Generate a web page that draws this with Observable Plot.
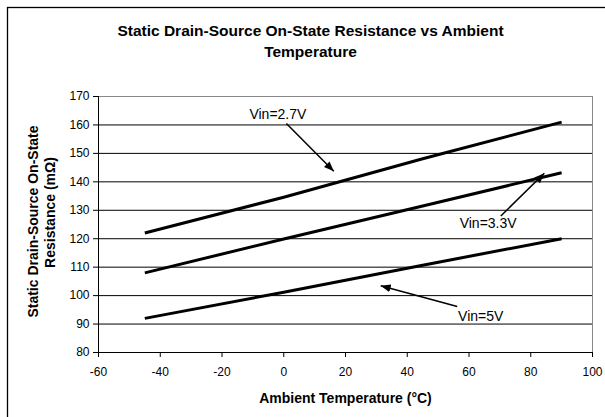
<!DOCTYPE html>
<html>
<head>
<meta charset="utf-8">
<script src="https://cdn.jsdelivr.net/npm/d3@7"></script>
<script src="https://cdn.jsdelivr.net/npm/@observablehq/plot@0.6"></script>
<style>
  html, body { margin: 0; padding: 0; background: #fff; }
</style>
</head>
<body>
<div id="chart"></div>
<script>
// ---- data ----
const temps = [-45, 0, 45, 90];
const vin27 = [122, 134.6, 148.1, 161];
const vin33 = [108, 119.9, 131.5, 143.2];
const vin5  = [92, 101.2, 110.7, 120];
const seriesNames = ["Vin=2.7V", "Vin=3.3V", "Vin=5V"];

const xTicks = [-60, -40, -20, 0, 20, 40, 60, 80, 100];
const yTicks = [80, 90, 100, 110, 120, 130, 140, 150, 160, 170];

// annotation label positions and arrows (in data units)
const labelT = [-1.9, 66.2, 63.8];
const labelR = [163.7, 125.2, 92.6];
const arrowFromT = [0.85, 70.3, 56.2];
const arrowFromR = [160.5, 128.0, 96.2];
const arrowToT = [16.2, 84.4, 31.4];
const arrowToR = [143.7, 143.0, 103.5];

const titleLines = ["Static Drain-Source On-State Resistance vs Ambient", "Temperature"];
const yTitleLines = ["Static Drain-Source On-State", "Resistance (mΩ)"];
const xTitle = "Ambient Temperature (°C)";

// ---- build tables ----
const rows = [];
[vin27, vin33, vin5].forEach((vals, si) => {
  vals.forEach((v, i) => rows.push({temp: temps[i], r: v, vin: seriesNames[si]}));
});
const labels = seriesNames.map((n, i) => ({name: n, t: labelT[i], r: labelR[i]}));
const arrows = seriesNames.map((n, i) => ({x1: arrowFromT[i], y1: arrowFromR[i], x2: arrowToT[i], y2: arrowToR[i]}));

const font = '"Liberation Sans", Arial, Helvetica, sans-serif';
const plain = d => String(d);

const chart = Plot.plot({
  width: 605,
  height: 417,
  marginLeft: 98,
  marginRight: 13,
  marginTop: 96,
  marginBottom: 65,
  x: {domain: [-60, 100]},
  y: {domain: [80, 170]},
  style: {fontFamily: font, fontSize: "12px", color: "#000", background: "#fff", overflow: "visible"},
  marks: [
    Plot.ruleY(yTicks.filter(v => v < 170), {stroke: "#000", strokeWidth: 1}),
    Plot.ruleY([170], {stroke: "#888", strokeWidth: 1}),
    Plot.ruleX([100], {stroke: "#888", strokeWidth: 1}),
    Plot.ruleX([-60], {stroke: "#000", strokeWidth: 1}),
    Plot.ruleY([80], {stroke: "#000", strokeWidth: 1}),
    Plot.axisX({ticks: xTicks, tickFormat: plain, tickSize: 5, tickPadding: 10, label: null, fontSize: 12}),
    Plot.axisY({ticks: yTicks, tickFormat: plain, tickSize: 5, tickPadding: 4, label: null, fontSize: 12}),
    Plot.line(rows, {x: "temp", y: "r", z: "vin", stroke: "#000", strokeWidth: 3, strokeLinecap: "butt"}),
    Plot.link(arrows, {x1: "x1", y1: "y1", x2: "x2", y2: "y2", stroke: "#000", strokeWidth: 1.5}),
    Plot.text(labels, {x: "t", y: "r", text: "name", fontSize: 14, fill: "#000"}),
    Plot.text([titleLines[0]], {text: d => d, frameAnchor: "top", textAnchor: "middle", dx: -35, dy: -65.5, lineAnchor: "middle", fontSize: 15.5, fontWeight: "bold"}),
    Plot.text([titleLines[1]], {text: d => d, frameAnchor: "top", textAnchor: "middle", dx: -35, dy: -44, lineAnchor: "middle", fontSize: 15.5, fontWeight: "bold"}),
    Plot.text([xTitle], {text: d => d, frameAnchor: "bottom", textAnchor: "middle", dx: 0, dy: 46, lineAnchor: "middle", fontSize: 14, fontWeight: "bold"}),
    Plot.text([yTitleLines[0]], {text: d => d, frameAnchor: "left", textAnchor: "middle", dx: -65, dy: -3, rotate: -90, lineAnchor: "middle", fontSize: 14, fontWeight: "bold"}),
    Plot.text([yTitleLines[1]], {text: d => d, frameAnchor: "left", textAnchor: "middle", dx: -48, dy: -12, rotate: -90, lineAnchor: "middle", fontSize: 14, fontWeight: "bold"})
  ]
});

document.getElementById("chart").appendChild(chart);

// decoration: outer chart border and filled arrowheads
const svg = d3.select(chart);
svg.insert("rect", ":first-child")
  .attr("x", 7.5).attr("y", 7.5).attr("width", 700).attr("height", 600)
  .attr("fill", "#fff").attr("stroke", "#000").attr("stroke-width", 1.3);
const defs = svg.append("defs");
defs.append("marker")
  .attr("id", "ahead")
  .attr("markerUnits", "userSpaceOnUse")
  .attr("viewBox", "0 0 10 8")
  .attr("refX", 10).attr("refY", 4)
  .attr("markerWidth", 10).attr("markerHeight", 8)
  .attr("orient", "auto")
  .append("path").attr("d", "M0,0L10,4L0,8Z").attr("fill", "#000");
svg.selectAll('g[aria-label="link"] path').attr("marker-end", "url(#ahead)");
</script>
</body>
</html>
